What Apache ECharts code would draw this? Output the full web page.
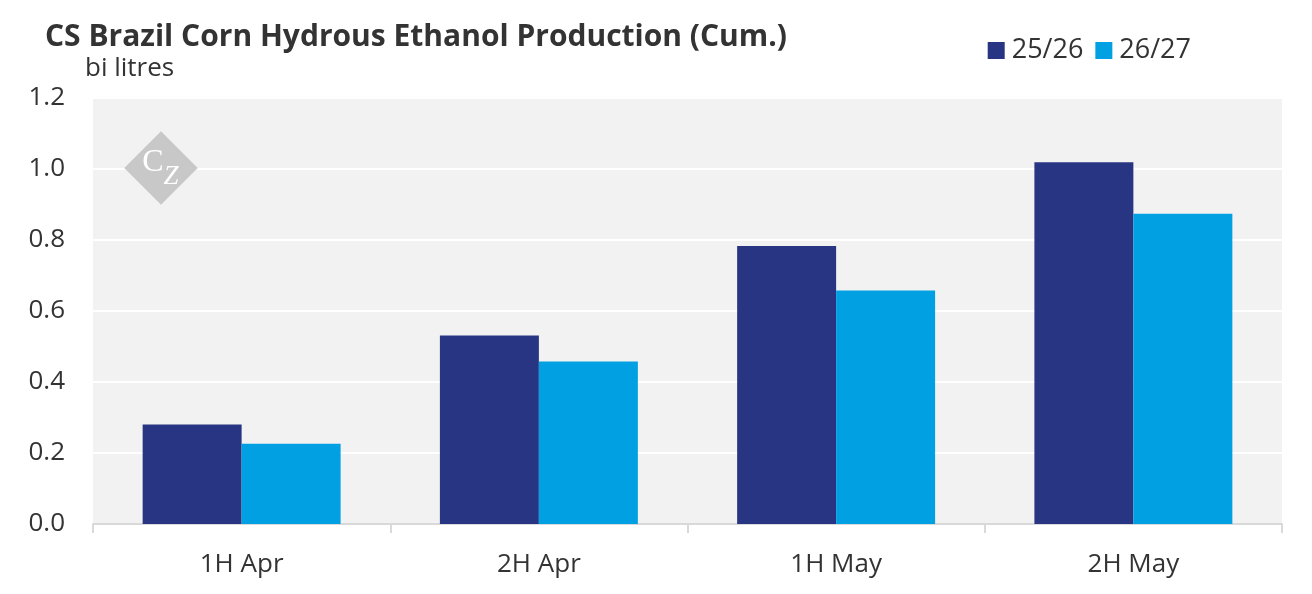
<!DOCTYPE html>
<html>
<head>
<meta charset="utf-8">
<script src="https://cdn.jsdelivr.net/npm/echarts@6/dist/echarts.min.js"></script>
<style>
    html, body { margin: 0; padding: 0; background: #fff; }
    #chart { width: 1312px; height: 594px; }
</style>
</head>
<body>
<div id="chart"></div>
<script>
const CATEGORIES = ['1H Apr', '2H Apr', '1H May', '2H May'];
const SEASON_2526 = [0.280, 0.531, 0.783, 1.019];
const SEASON_2627 = [0.226, 0.458, 0.658, 0.874];
const SERIES_NAMES = ['25/26', '26/27'];

const FONT = '"Open Sans", "Noto Sans", sans-serif';
const TEXT = '#333333';

const chart = echarts.init(document.getElementById('chart'), null, { renderer: 'canvas' });

chart.setOption({
    animation: false,
    textStyle: { fontFamily: FONT },
    title: [
        {
            text: 'CS Brazil Corn Hydrous Ethanol Production (Cum.)',
            left: 45, top: 22, padding: 0,
            textStyle: { fontFamily: FONT, fontSize: 30, fontWeight: 'bold', color: TEXT }
        },
        {
            text: 'bi litres',
            left: 85, top: 56, padding: 0,
            textStyle: { fontFamily: FONT, fontSize: 26, fontWeight: 'normal', color: TEXT }
        }
    ],
    legend: {
        data: SERIES_NAMES,
        right: 116, top: 32,
        itemWidth: 17, itemHeight: 17, itemGap: 12,
        icon: 'rect',
        textStyle: { fontFamily: FONT, fontSize: 27, color: TEXT, padding: [0, 0, 0, 2] }
    },
    grid: { left: 93, right: 30, top: 98, bottom: 70, containLabel: false },
    xAxis: {
        type: 'category',
        data: CATEGORIES,
        axisLine: { lineStyle: { color: '#d9d9d9', width: 2 } },
        axisTick: { show: true, length: 9, lineStyle: { color: '#d9d9d9', width: 2 } },
        axisLabel: { fontFamily: FONT, fontSize: 26, color: TEXT, margin: 28 },
        splitArea: { show: false }
    },
    yAxis: {
        type: 'value',
        min: 0, max: 1.2, interval: 0.2,
        axisLine: { show: false },
        axisTick: { show: false },
        axisLabel: {
            fontFamily: FONT, fontSize: 26, color: TEXT, margin: 28,
            formatter: v => v.toFixed(1)
        },
        splitLine: { lineStyle: { color: '#ffffff', width: 2 } },
        splitArea: { show: true, areaStyle: { color: ['#f2f2f2', '#f2f2f2'] } }
    },
    graphic: [
        {
            type: 'rect',
            x: 161, y: 168,
            rotation: Math.PI / 4,
            shape: { x: -26, y: -26, width: 52, height: 52 },
            style: { fill: '#c8c8c8' },
            z: 100
        },
        {
            type: 'text',
            x: 153, y: 163,
            style: {
                text: 'C', font: '32px "Liberation Serif", serif',
                fill: '#ffffff', align: 'center', verticalAlign: 'middle'
            },
            z: 101
        },
        {
            type: 'text',
            x: 171, y: 177,
            style: {
                text: 'Z', font: 'italic 27px "Liberation Serif", serif',
                fill: '#ffffff', align: 'center', verticalAlign: 'middle'
            },
            z: 101
        }
    ],
    series: [
        {
            name: SERIES_NAMES[0],
            type: 'bar',
            data: SEASON_2526,
            itemStyle: { color: '#283583' },
            barGap: '0%',
            barCategoryGap: '33.4%'
        },
        {
            name: SERIES_NAMES[1],
            type: 'bar',
            data: SEASON_2627,
            itemStyle: { color: '#00a0e3' }
        }
    ]
});
</script>
</body>
</html>
